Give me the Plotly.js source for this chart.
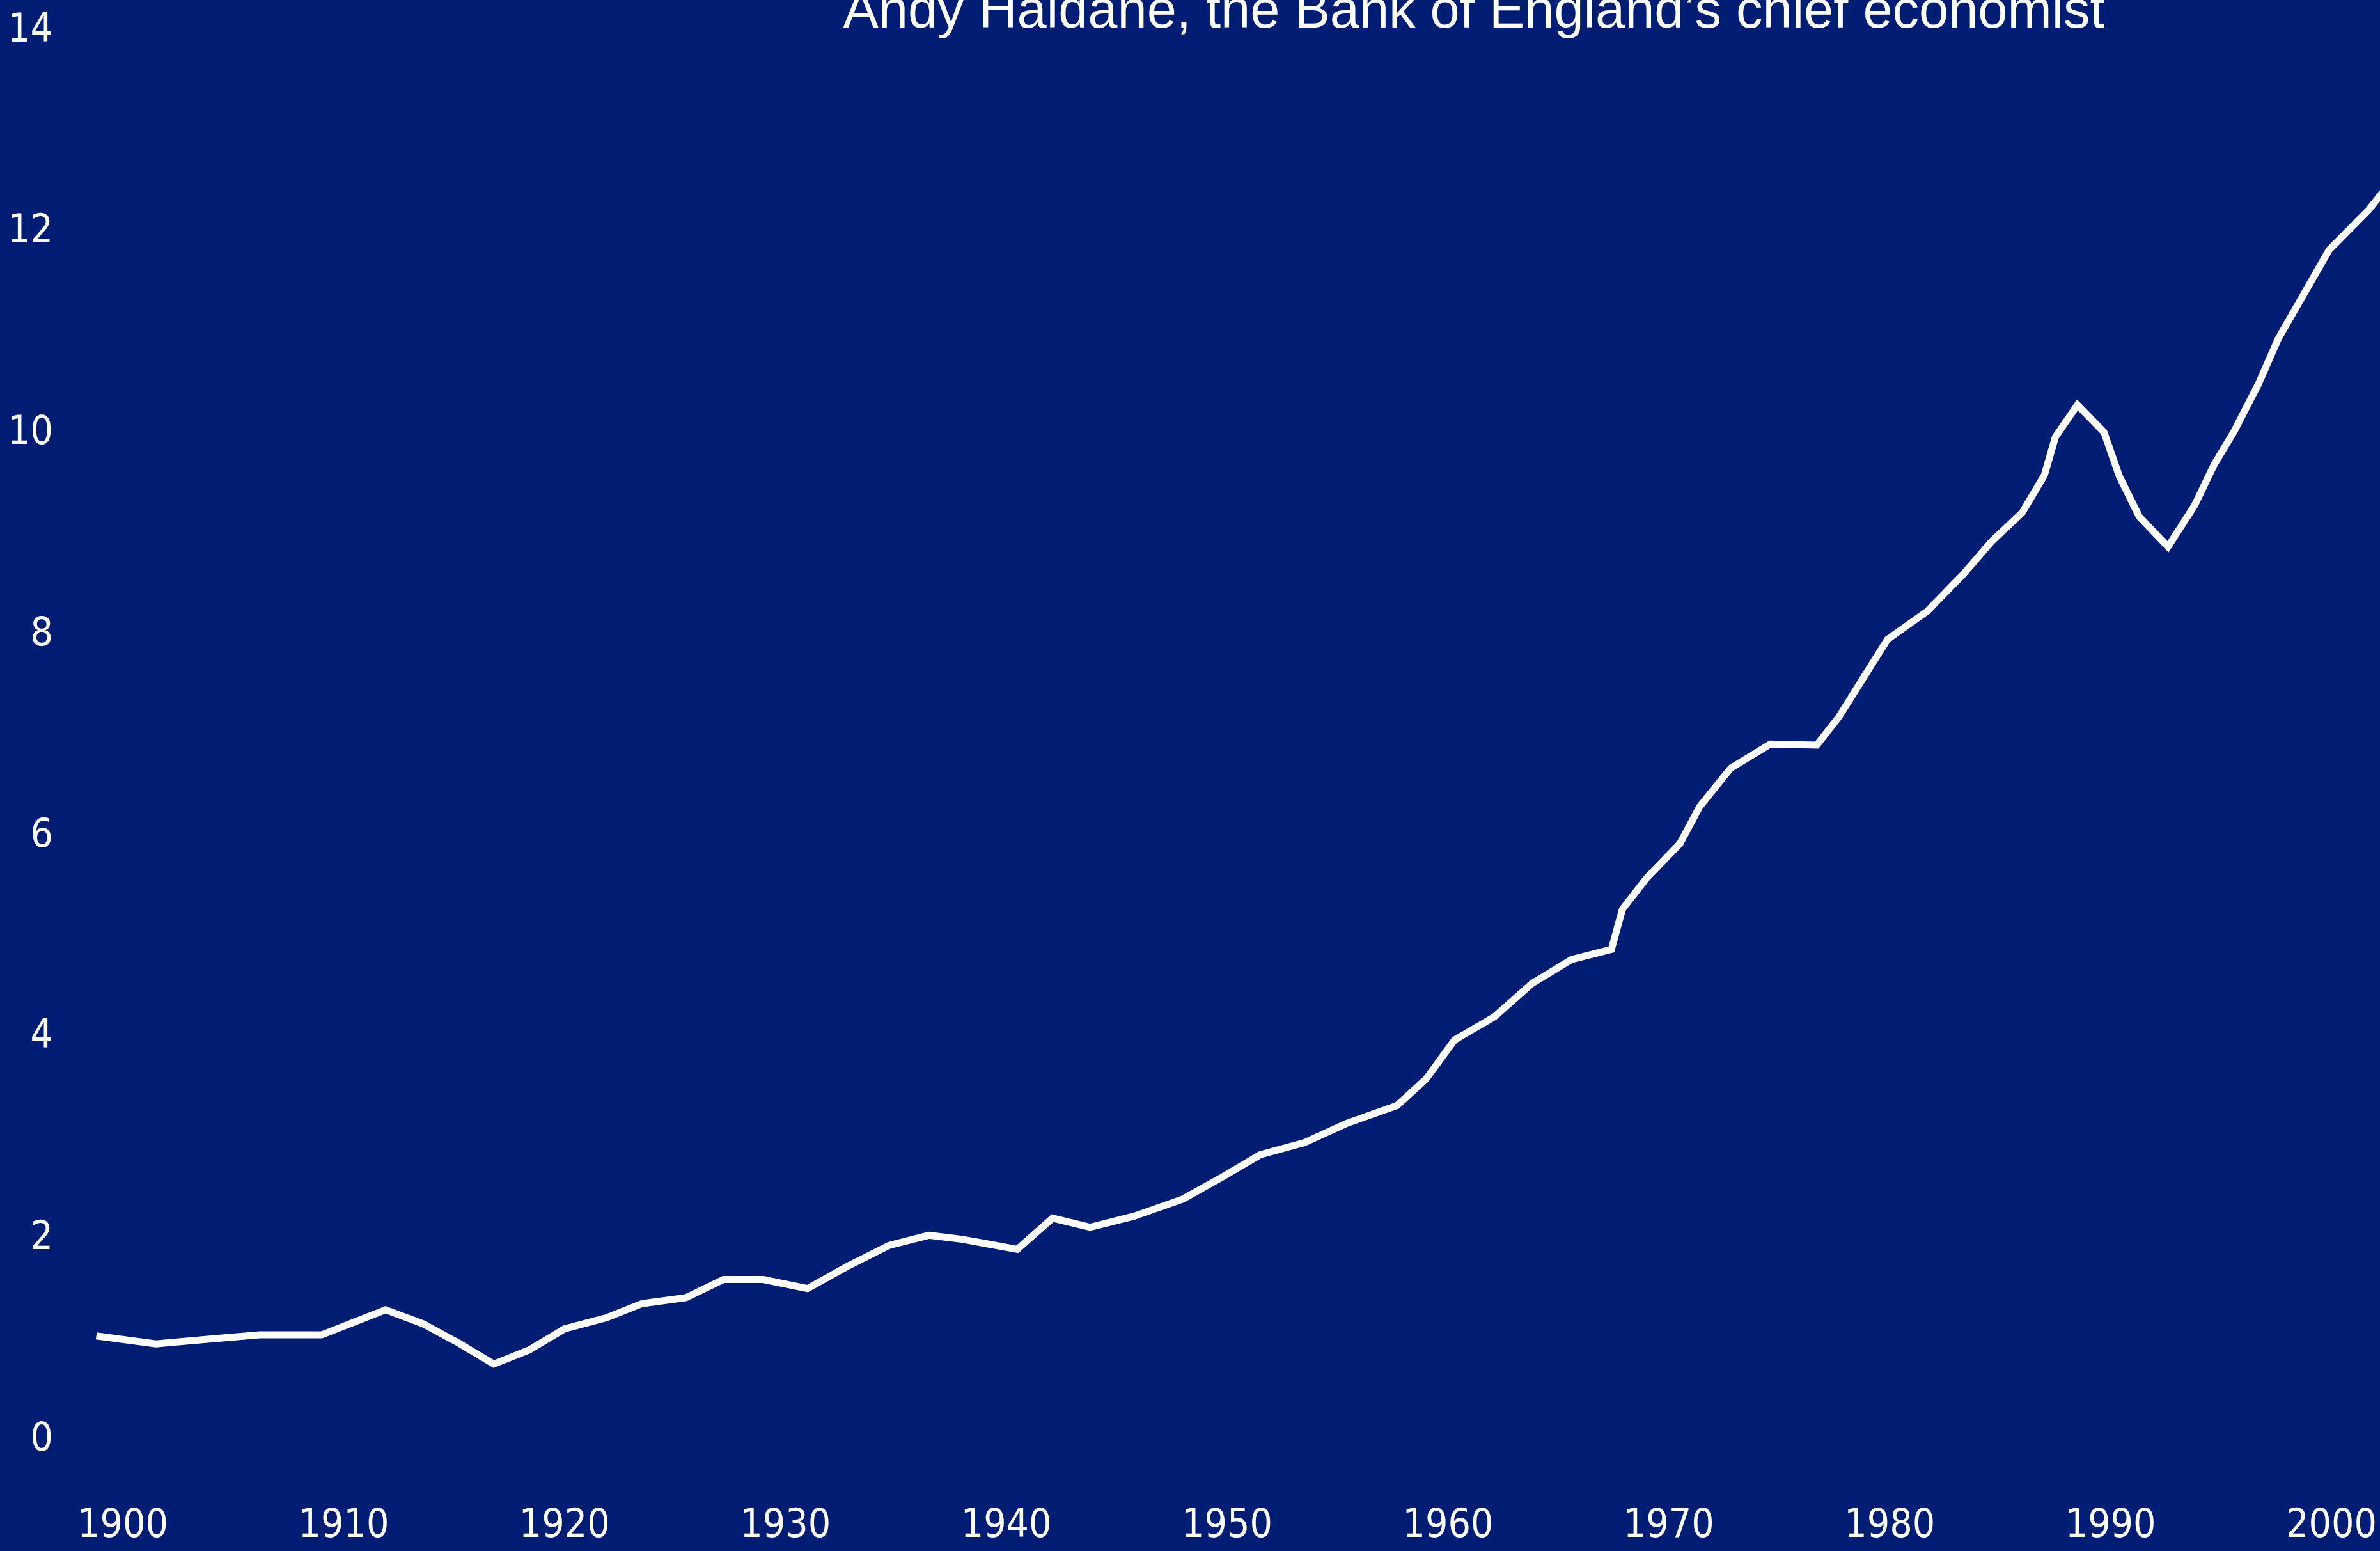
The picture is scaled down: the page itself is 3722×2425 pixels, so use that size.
<!DOCTYPE html>
<html>
<head>
<meta charset="utf-8">
<script src="https://cdn.plot.ly/plotly-3.0.1.min.js"></script>
<style>
  html, body { margin: 0; padding: 0; background: #001d74; }
  #chart { width: 3722px; height: 2425px; }
</style>
</head>
<body>
<div id="chart"></div>
<script>
// Data
const years = [
  1898.8, 1901.5, 1904.0, 1906.2, 1909.0, 1911.9, 1913.6, 1915.2, 1916.8, 1918.4,
  1920.0, 1921.9, 1923.5, 1925.5, 1927.2, 1929.0, 1931.0, 1932.8, 1934.7, 1936.5,
  1938.0, 1940.5, 1942.1, 1943.8, 1945.8, 1948.0, 1949.8, 1951.5, 1953.5, 1955.4,
  1957.7, 1959.0, 1960.3, 1962.1, 1963.8, 1965.6, 1967.4, 1967.9, 1969.0, 1970.5,
  1971.4, 1972.8, 1974.6, 1976.7, 1977.7, 1978.8, 1979.9, 1981.7, 1983.3, 1984.6,
  1986.0, 1987.0, 1987.5, 1988.5, 1989.7, 1990.4, 1991.3, 1992.6, 1993.8, 1994.7,
  1995.6, 1996.7, 1997.6, 1999.9, 2001.7, 2003.0
];
const values = [
  1.00, 0.92, 0.97, 1.01, 1.01, 1.26, 1.12, 0.93, 0.72, 0.86,
  1.07, 1.18, 1.32, 1.38, 1.56, 1.56, 1.47, 1.69, 1.90, 2.00,
  1.96, 1.86, 2.17, 2.08, 2.19, 2.36, 2.58, 2.80, 2.92, 3.11,
  3.29, 3.55, 3.94, 4.17, 4.50, 4.74, 4.84, 5.24, 5.55, 5.89,
  6.26, 6.64, 6.88, 6.87, 7.15, 7.55, 7.92, 8.20, 8.56, 8.89,
  9.18, 9.55, 9.93, 10.25, 9.98, 9.54, 9.14, 8.84, 9.25, 9.66,
  9.99, 10.46, 10.91, 11.79, 12.19, 12.55
];
const xTickYears = [1900, 1910, 1920, 1930, 1940, 1950, 1960, 1970, 1980, 1990, 2000];
const yTickValues = [0, 2, 4, 6, 8, 10, 12, 14];
const titleText = "Andy Haldane, the Bank of England\u2019s chief economist";

const BG = '#001d74';
const tickFont = { family: '"DejaVu Sans Condensed", "Liberation Sans Narrow", sans-serif', size: 62, color: '#ffffff' };

const trace = {
  x: years,
  y: values,
  type: 'scatter',
  mode: 'lines',
  line: { color: '#ffffff', width: 11 },
  hoverinfo: 'skip',
  showlegend: false
};

const layout = {
  width: 3722,
  height: 2425,
  paper_bgcolor: BG,
  plot_bgcolor: BG,
  margin: { l: 84, r: 0, t: 0, b: 85, pad: 0 },
  title: {
    text: titleText,
    font: { family: '"Liberation Sans", Arial, sans-serif', size: 83, color: '#ffffff' },
    xref: 'container',
    yref: 'container',
    x: 0.6193,
    xanchor: 'center',
    y: 1 - 43 / 2425,
    yanchor: 'bottom'
  },
  xaxis: {
    range: [1896.873, 2002.200],
    tickmode: 'array',
    tickvals: xTickYears,
    ticktext: xTickYears.map(String),
    tickfont: tickFont,
    ticks: '',
    showgrid: false,
    zeroline: false,
    showline: false,
    fixedrange: true
  },
  yaxis: {
    range: [-0.597, 14.273],
    tickmode: 'array',
    tickvals: yTickValues,
    ticktext: yTickValues.map(String),
    tickfont: tickFont,
    ticks: '',
    showgrid: false,
    zeroline: false,
    showline: false,
    fixedrange: true
  }
};

Plotly.newPlot('chart', [trace], layout, { displayModeBar: false, staticPlot: true });
</script>
</body>
</html>
